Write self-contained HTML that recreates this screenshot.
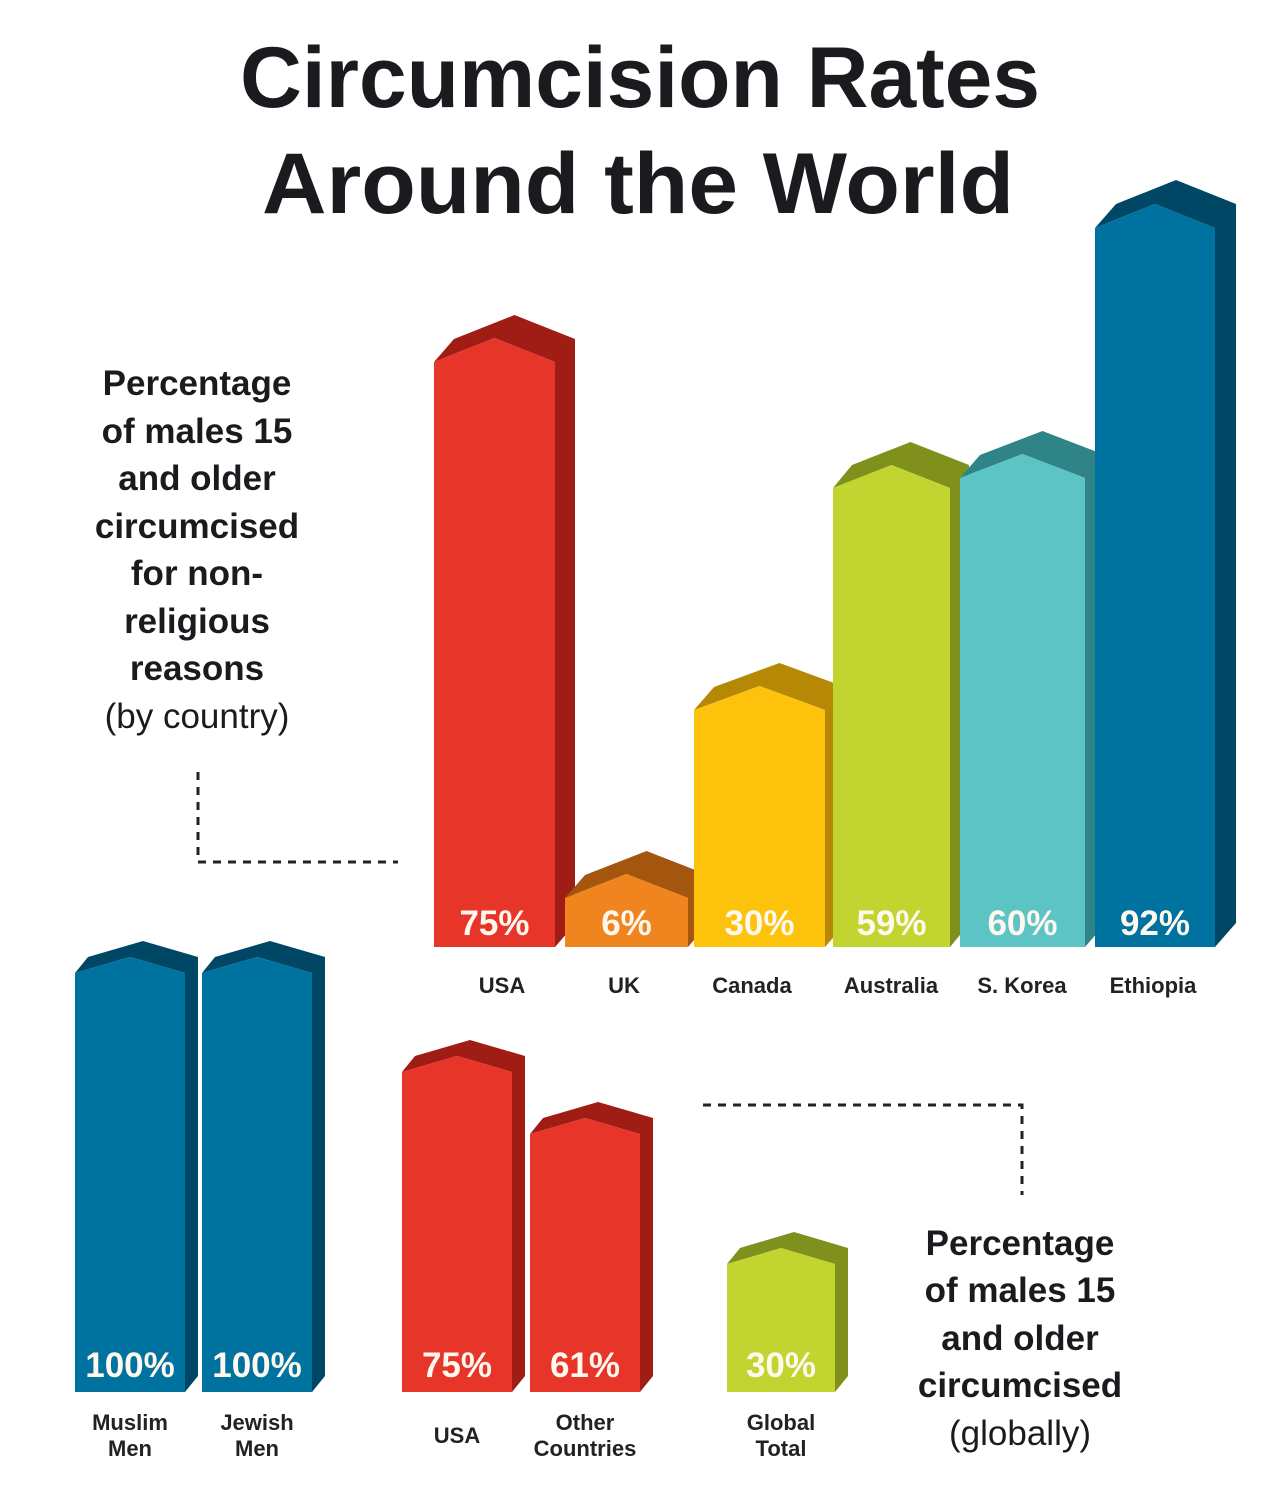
<!DOCTYPE html>
<html><head><meta charset="utf-8"><style>
html,body{margin:0;padding:0;background:#fff}
svg{display:block}
text{font-family:"Liberation Sans",sans-serif;font-weight:bold}
text.n{font-weight:normal}
</style></head><body>
<svg id="s" width="1280" height="1495" viewBox="0 0 1280 1495" xmlns="http://www.w3.org/2000/svg">
<text x="640" y="107" text-anchor="middle" font-size="86" fill="#1c1a1f" textLength="800" lengthAdjust="spacingAndGlyphs">Circumcision Rates</text>
<text x="638" y="213" text-anchor="middle" font-size="86" fill="#1c1a1f" textLength="752" lengthAdjust="spacingAndGlyphs">Around the World</text>
<g font-size="35" fill="#1c1a1f" text-anchor="middle">
<text x="197" y="395">Percentage</text>
<text x="197" y="443">of males 15</text>
<text x="197" y="490">and older</text>
<text x="197" y="538">circumcised</text>
<text x="197" y="585">for non-</text>
<text x="197" y="633">religious</text>
<text x="197" y="680">reasons</text>
<text x="197" y="728" class="n">(by country)</text>
<text x="1020" y="1255">Percentage</text>
<text x="1020" y="1302">of males 15</text>
<text x="1020" y="1350">and older</text>
<text x="1020" y="1397">circumcised</text>
<text x="1020" y="1445" class="n">(globally)</text>
</g>
<g stroke="#222" stroke-width="3" stroke-dasharray="8,7" fill="none">
<path d="M198 772V862H398"/>
<path d="M703 1105H1022V1195"/>
</g>
<g id="bars"></g>
<g font-size="22" fill="#222" text-anchor="middle">
<text x="502" y="993">USA</text>
<text x="624" y="993">UK</text>
<text x="752" y="993">Canada</text>
<text x="891" y="993">Australia</text>
<text x="1022" y="993">S. Korea</text>
<text x="1153" y="993">Ethiopia</text>
<text x="130" y="1430">Muslim</text><text x="130" y="1456">Men</text>
<text x="257" y="1430">Jewish</text><text x="257" y="1456">Men</text>
<text x="457" y="1443">USA</text>
<text x="585" y="1430">Other</text><text x="585" y="1456">Countries</text>
<text x="781" y="1430">Global</text><text x="781" y="1456">Total</text>
</g>
</svg>
<script>
var bars=[
[434,555,362,947,'#e8352a','#a01d16','75%',935,20,23,24],
[565,688,898,947,'#f0841e','#a4560f','6%',935,20,23,24],
[694,825,710,947,'#fcc20c','#b58806','30%',935,20,23,24],
[833,950,488,947,'#c2d42f','#7f901c','59%',935,19,23,23],
[960,1085,478,947,'#5cc4c5','#2f8488','60%',935,20,23,24],
[1095,1215,228,947,'#0072a0','#004766','92%',935,21,24,24],
[75,185,973,1392,'#0072a0','#004766','100%',1377,13,16,16],
[202,312,973,1392,'#0072a0','#004766','100%',1377,13,16,16],
[402,512,1072,1392,'#e8352a','#a01d16','75%',1377,13,16,16],
[530,640,1134,1392,'#e8352a','#a01d16','61%',1377,13,16,16],
[727,835,1264,1392,'#c2d42f','#7f901c','30%',1377,13,16,16]];
var g=document.getElementById('bars'),h='';
bars.forEach(function(b){
var L=b[0],R=b[1],T=b[2],B=b[3],w=R-L,M=L+w/2,dx=b[8],dy=b[9],rise=b[10];
var dark=[[L,T],[L+dx,T-dy],[M+dx,T-rise-dy],[R+dx,T-dy],[R+dx,B-dy],[R,B],[R,T],[M,T-rise]];
var front=[[L,B],[L,T],[M,T-rise],[R,T],[R,B]];
function p(a){return a.map(function(q){return q[0].toFixed(1)+','+q[1].toFixed(1)}).join(' ')}
h+='<polygon points="'+p(dark)+'" fill="'+b[5]+'"/>';
h+='<polygon points="'+p(front)+'" fill="'+b[4]+'"/>';
h+='<text x="'+M+'" y="'+b[7]+'" text-anchor="middle" font-size="35" fill="#fff8ee">'+b[6]+'</text>';
});
g.innerHTML=h;
</script>
</body></html>
